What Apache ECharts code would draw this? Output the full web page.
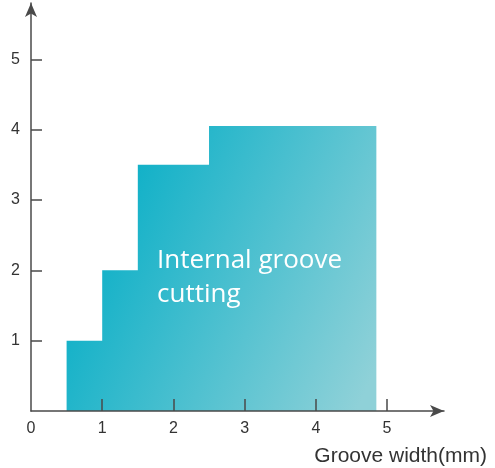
<!DOCTYPE html>
<html>
<head>
<meta charset="utf-8">
<script src="https://cdn.jsdelivr.net/npm/echarts@6/dist/echarts.min.js"></script>
<style>
  html, body { margin: 0; padding: 0; background: #fff; }
  #chart { width: 495px; height: 468px; }
</style>
</head>
<body>
<div id="chart"></div>
<script>
// step outline of the cutting range: [groove width, depth]
const stepWidths = [0.5, 1, 1.5, 2.5, 4.85];
const stepDepths = [1, 2, 3.5, 4.05, 4.05];
const xTickValues = [0, 1, 2, 3, 4, 5];
const yTickValues = [1, 2, 3, 4, 5];
const xName = "Groove width(mm)";
const areaLabel = "Internal groove\ncutting";

const chart = echarts.init(document.getElementById("chart"));
const axisColor = "#4a4a4a";

let option = {
  animation: false,
  grid: { left: 31, right: 51, top: 3, bottom: 57 },
  xAxis: {
    type: "value",
    z: 5,
    min: 0,
    max: 5.8,
    name: xName,
    nameLocation: "end",
    nameGap: 43,
    nameTextStyle: {
      color: "#333",
      fontSize: 21,
      fontFamily: "Arial, Liberation Sans",
      align: "right",
      verticalAlign: "top",
      padding: [35, 0, 0, 0],
    },
    splitLine: { show: false },
    axisLine: {
      lineStyle: { color: axisColor, width: 1.5 },
      symbol: ["none", "arrow"],
      symbolSize: [9, 14],
    },
    axisTick: {
      inside: true,
      length: 12,
      customValues: xTickValues.slice(1),
      lineStyle: { color: axisColor, width: 1.5 },
    },
    axisLabel: {
      customValues: xTickValues,
      color: "#333",
      fontSize: 16,
      fontFamily: "Arial, Liberation Sans",
      margin: 10,
    },
  },
  yAxis: {
    type: "value",
    z: 5,
    min: 0,
    max: 5.8,
    splitLine: { show: false },
    axisLine: {
      lineStyle: { color: axisColor, width: 1.5 },
      symbol: ["none", "arrow"],
      symbolSize: [9, 14],
    },
    axisTick: {
      inside: true,
      length: 11,
      customValues: yTickValues,
      lineStyle: { color: axisColor, width: 1.5 },
    },
    axisLabel: {
      customValues: yTickValues,
      color: "#333",
      fontSize: 16,
      fontFamily: "Arial, Liberation Sans",
      margin: 11,
    },
  },
  series: [
    {
      type: "line",
      step: "end",
      symbol: "none",
      data: stepWidths.map((w, i) => [w, stepDepths[i]]),
      lineStyle: { width: 0 },
      areaStyle: {
        opacity: 1,
        color: new echarts.graphic.LinearGradient(0, 0.35, 1, 0.85, [
          { offset: 0, color: "#02adc6" },
          { offset: 1, color: "#8fd1d8" },
        ]),
      },
    },
  ],
  graphic: [
    {
      type: "text",
      z: 100,
      left: 157,
      top: 244,
      style: {
        text: areaLabel,
        fill: "#ffffff",
        font: "26px 'Open Sans', sans-serif",
        lineHeight: 34,
      },
    },
  ],
};
chart.setOption(option);
</script>
</body>
</html>
